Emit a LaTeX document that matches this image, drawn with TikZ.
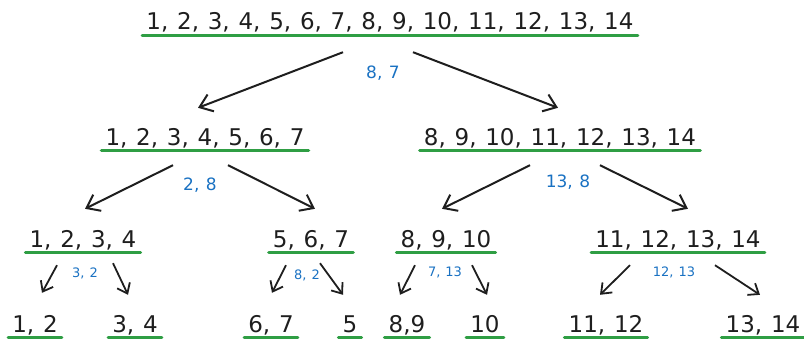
\documentclass[tikz,border=0pt]{standalone}
\usepackage{fontspec}
\setmainfont{DejaVu Sans}[WordSpace=1.2]
\usetikzlibrary{arrows.meta}
\definecolor{inkblack}{HTML}{1E1E1E}
\definecolor{markgreen}{HTML}{2F9E44}
\definecolor{noteblue}{HTML}{1971C2}

\begin{document}
\begin{tikzpicture}[
    x=1pt, y=-1pt,
    lst/.style={anchor=base, inner xsep=4pt, inner ysep=0pt, text height=17pt, text depth=5pt, text=inkblack, font=\fontsize{23}{23}\selectfont},
    note/.style={text=noteblue, inner sep=0pt, font=\fontsize{17}{17}\selectfont},
    smallnote/.style={note, font=\fontsize{13}{13}\selectfont},
    uline/.style={markgreen, line width=3.2pt, line cap=round},
    arr/.style={-{Straight Barb[length=12pt, width=18pt]}, line width=2pt, inkblack},
    sarr/.style={-{Straight Barb[length=9pt, width=14pt]}, line width=1.8pt, inkblack}
]
    \useasboundingbox (0,0) rectangle (804,345);

    % whole list and the two halves
    \node[lst] (all) at (390,30) {1, 2, 3, 4, 5, 6, 7, 8, 9, 10, 11, 12, 13, 14};
    \node[lst] (lo) at (205,145) {1, 2, 3, 4, 5, 6, 7};
    \node[lst] (hi) at (560,145) {8, 9, 10, 11, 12, 13, 14};

    % quarters
    \node[lst] (loa) at (83,247) {1, 2, 3, 4};
    \node[lst] (lob) at (311,247) {5, 6, 7};
    \node[lst] (hia) at (446,247) {8, 9, 10};
    \node[lst] (hib) at (678,247) {11, 12, 13, 14};

    % leaves
    \node[lst] (q1) at (35,332) {1, 2};
    \node[lst] (q2) at (135,332) {3, 4};
    \node[lst] (q3) at (271,332) {6, 7};
    \node[lst] (q4) at (350,332) {5};
    \node[lst] (q5) at (407,332) {8,9};
    \node[lst] (q6) at (485,332) {10};
    \node[lst] (q7) at (606,332) {11, 12};
    \node[lst] (q8) at (763,332) {13, 14};

    \foreach \n in {all,lo,hi,loa,lob,hia,hib,q1,q2,q3,q4,q5,q6,q7,q8}
        \draw[uline] (\n.south west) -- (\n.south east);

    % split notes
    \node[note] (s0) at (383,73) {8, 7};
    \node[note] (s1) at (200,185) {2, 8};
    \node[note] (s2) at (568,182) {13, 8};
    \node[smallnote] (s3) at (85,273) {3, 2};
    \node[smallnote] (s4) at (307,275) {8, 2};
    \node[smallnote] (s5) at (445,272) {7, 13};
    \node[smallnote] (s6) at (674,272) {12, 13};

    % arrows
    \draw[arr] ([xshift=-47pt, yshift=-17pt]all.south) -- ([xshift=-7pt, yshift=20pt]lo.north);
    \draw[arr] ([xshift=23pt, yshift=-17pt]all.south) -- ([xshift=-2pt, yshift=20pt]hi.north);
    \draw[arr] ([xshift=-32pt, yshift=-15pt]lo.south) -- ([xshift=2pt, yshift=21pt]loa.north);
    \draw[arr] ([xshift=23pt, yshift=-15pt]lo.south) -- ([xshift=4pt, yshift=21pt]lob.north);
    \draw[arr] ([xshift=-30pt, yshift=-15pt]hi.south) -- ([xshift=-4pt, yshift=21pt]hia.north);
    \draw[arr] ([xshift=40pt, yshift=-15pt]hi.south) -- ([xshift=10pt, yshift=21pt]hib.north);

    \draw[sarr] ([xshift=-26pt, yshift=-13pt]loa.south) -- ([xshift=7pt, yshift=22pt]q1.north);
    \draw[sarr] ([xshift=30pt, yshift=-11pt]loa.south) -- ([xshift=-7pt, yshift=20pt]q2.north);
    \draw[sarr] ([xshift=-25pt, yshift=-13pt]lob.south) -- ([xshift=1pt, yshift=22pt]q3.north);
    \draw[sarr] ([xshift=9pt, yshift=-11pt]lob.south) -- ([xshift=-7pt, yshift=20pt]q4.north);
    \draw[sarr] ([xshift=-31pt, yshift=-13pt]hia.south) -- ([xshift=-7pt, yshift=20pt]q5.north);
    \draw[sarr] ([xshift=26pt, yshift=-13pt]hia.south) -- ([xshift=2pt, yshift=20pt]q6.north);
    \draw[sarr] ([xshift=-48pt, yshift=-13pt]hib.south) -- ([xshift=-6pt, yshift=20pt]q7.north);
    \draw[sarr] ([xshift=37pt, yshift=-13pt]hib.south) -- ([xshift=-3pt, yshift=20pt]q8.north);
\end{tikzpicture}
\end{document}
